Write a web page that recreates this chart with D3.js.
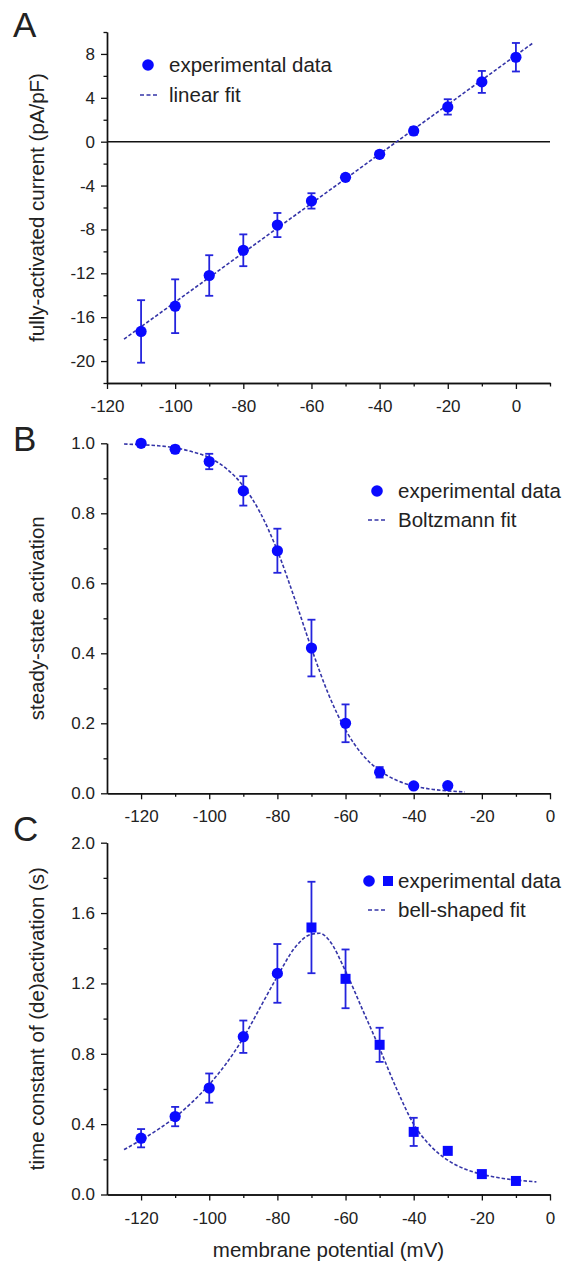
<!DOCTYPE html>
<html lang="en">
<head>
<meta charset="utf-8">
<title>Fully-activated current, activation and kinetics</title>
<script src="https://cdn.jsdelivr.net/npm/d3@7"></script>
<style>
  body { margin: 0; background: #fff; }
  svg text { font-family: "Liberation Sans", Arial, sans-serif; fill: #222; }
</style>
</head>
<body>
<script>
// A: fully-activated current (pA/pF)
var voltsA = [-110, -100, -90, -80, -70, -60, -50, -40, -30, -20, -10, 0];
var currentA = [-17.3, -15.0, -12.2, -9.9, -7.6, -5.4, -3.25, -1.15, 0.98, 3.17, 5.45, 7.7];
var currentErrA = [2.85, 2.45, 1.85, 1.45, 1.1, 0.7, 0.25, 0.25, 0.35, 0.7, 1.0, 1.3];
var fitVoltsA = [-115, 5];
var fitCurrentA = [-18.0, 9.0];

// B: steady-state activation
var voltsB = [-120, -110, -100, -90, -80, -70, -60, -50, -40, -30];
var activationB = [1.0, 0.983, 0.948, 0.864, 0.693, 0.415, 0.2, 0.06, 0.021, 0.022];
var activationErrB = [0.005, 0.01, 0.022, 0.042, 0.063, 0.081, 0.054, 0.015, 0.005, 0.005];
var fitVoltsB = [-125, -120, -115, -110, -105, -100, -95, -90, -85, -80, -75, -70, -65, -60, -55, -50, -45, -40, -35, -30, -25];
var fitActivationB = [0.998, 0.996, 0.993, 0.987, 0.976, 0.959, 0.928, 0.878, 0.801, 0.693, 0.558, 0.414, 0.283, 0.181, 0.11, 0.065, 0.037, 0.021, 0.012, 0.007, 0.004];

// C: time constant of (de)activation (s)
var voltsC = [-120, -110, -100, -90, -80, -70, -60, -50, -40, -30, -20, -10];
var tauC = [0.32, 0.443, 0.605, 0.897, 1.257, 1.518, 1.226, 0.851, 0.356, 0.248, 0.116, 0.077];
var tauErrC = [0.052, 0.055, 0.083, 0.092, 0.167, 0.26, 0.167, 0.097, 0.08, 0.015, 0.01, 0.01];
var shapeC = ["circle", "circle", "circle", "circle", "circle", "square", "square", "square", "square", "square", "square", "square"];
var fitVoltsC = [-125, -120, -115, -110, -105, -100, -95, -90, -85, -80, -75, -70, -67.5, -65, -60, -55, -50, -45, -40, -35, -30, -25, -20, -15, -10, -4];
var fitTauC = [0.255, 0.31, 0.37, 0.44, 0.525, 0.625, 0.745, 0.89, 1.065, 1.24, 1.4, 1.48, 1.485, 1.45, 1.27, 1.05, 0.83, 0.6, 0.4, 0.275, 0.195, 0.145, 0.115, 0.095, 0.082, 0.072];

var w = 572, h = 1265;
var left = 107, right = 550;
var markColor = "#0a0aff", errColor = "#2424dd", fitColor = "#3535a8";

var svg = d3.select("body").append("svg")
  .attr("width", w)
  .attr("height", h);

svg.append("rect").attr("width", w).attr("height", h).attr("fill", "#fff");

function drawPanel(p) {
  var g = svg.append("g");
  var x = d3.scaleLinear().domain(p.xDomain).range([left, right]);
  var y = d3.scaleLinear().domain(p.yDomain).range([p.bottom, p.top]);

  // minor ticks
  g.append("g").attr("transform", "translate(0," + p.bottom + ")")
    .call(d3.axisBottom(x).tickValues(p.xMinor).tickSize(3.5).tickSizeOuter(0).tickFormat(""));
  g.append("g").attr("transform", "translate(" + left + ",0)")
    .call(d3.axisLeft(y).tickValues(p.yMinor).tickSize(3.5).tickSizeOuter(0).tickFormat(""));

  // major ticks + labels
  var xa = g.append("g").attr("transform", "translate(0," + p.bottom + ")")
    .call(d3.axisBottom(x).tickValues(p.xMajor).tickSize(6).tickSizeOuter(0).tickPadding(11)
      .tickFormat(function(d) { return String(d); }));
  var ya = g.append("g").attr("transform", "translate(" + left + ",0)")
    .call(d3.axisLeft(y).tickValues(p.yMajor).tickSize(6).tickSizeOuter(0).tickPadding(6)
      .tickFormat(p.yFormat));

  g.selectAll(".tick line").attr("stroke", "#111").attr("stroke-width", 1.3);
  g.selectAll(".domain").attr("stroke", "#111").attr("stroke-width", 1.4);
  g.selectAll(".tick text").attr("font-size", 17).attr("font-family", "Liberation Sans, Arial, sans-serif").attr("fill", "#222");

  // y title
  g.append("text")
    .attr("transform", "translate(37," + ((p.top + p.bottom) / 2) + ") rotate(-90)")
    .attr("text-anchor", "middle")
    .attr("dy", "0.35em")
    .attr("font-size", 20.5)
    .text(p.yTitle);

  // panel letter
  g.append("text")
    .attr("x", 13).attr("y", p.letterY)
    .attr("font-size", 35)
    .attr("fill", "#111")
    .text(p.letter);

  if (p.zeroLine) {
    g.append("line")
      .attr("x1", x(p.xDomain[0])).attr("x2", x(p.xDomain[1]))
      .attr("y1", y(0)).attr("y2", y(0))
      .attr("stroke", "#111").attr("stroke-width", 1.4);
  }

  // fit curve
  var line = d3.line()
    .x(function(d) { return x(d[0]); })
    .y(function(d) { return y(d[1]); })
    .curve(d3.curveMonotoneX);
  g.append("path")
    .datum(d3.zip(p.fitX, p.fitY))
    .attr("d", line)
    .attr("fill", "none")
    .attr("stroke", fitColor)
    .attr("stroke-width", 1.6)
    .attr("stroke-dasharray", "3.5,2");

  // error bars
  var pts = p.xs.map(function(v, i) {
    return { x: v, y: p.ys[i], e: p.errs[i], s: p.shapes ? p.shapes[i] : "circle" };
  });
  var eb = g.selectAll(".eb").data(pts).enter().append("g").attr("class", "eb");
  eb.append("line")
    .attr("x1", function(d) { return x(d.x); })
    .attr("x2", function(d) { return x(d.x); })
    .attr("y1", function(d) { return y(d.y - d.e); })
    .attr("y2", function(d) { return y(d.y + d.e); });
  eb.append("line")
    .attr("x1", function(d) { return x(d.x) - 4; })
    .attr("x2", function(d) { return x(d.x) + 4; })
    .attr("y1", function(d) { return y(d.y + d.e); })
    .attr("y2", function(d) { return y(d.y + d.e); });
  eb.append("line")
    .attr("x1", function(d) { return x(d.x) - 4; })
    .attr("x2", function(d) { return x(d.x) + 4; })
    .attr("y1", function(d) { return y(d.y - d.e); })
    .attr("y2", function(d) { return y(d.y - d.e); });
  eb.selectAll("line").attr("stroke", errColor).attr("stroke-width", 1.8);

  // markers
  g.selectAll(".dot").data(pts.filter(function(d) { return d.s == "circle"; }))
    .enter().append("circle")
    .attr("cx", function(d) { return x(d.x); })
    .attr("cy", function(d) { return y(d.y); })
    .attr("r", 5.6)
    .attr("fill", markColor);
  g.selectAll(".sq").data(pts.filter(function(d) { return d.s == "square"; }))
    .enter().append("rect")
    .attr("x", function(d) { return x(d.x) - 5; })
    .attr("y", function(d) { return y(d.y) - 5; })
    .attr("width", 10).attr("height", 10)
    .attr("fill", markColor);

  // legend
  var lg = p.legend;
  if (lg.square) {
    lg.markers = [["circle", lg.mx], ["square", lg.mx + 19]];
  } else {
    lg.markers = [["circle", lg.mx]];
  }
  lg.markers.forEach(function(m) {
    if (m[0] == "circle") {
      g.append("circle").attr("cx", m[1]).attr("cy", lg.y1).attr("r", 5.8).attr("fill", markColor);
    } else {
      g.append("rect").attr("x", m[1] - 5).attr("y", lg.y1 - 5).attr("width", 10).attr("height", 10).attr("fill", markColor);
    }
  });
  g.append("line")
    .attr("x1", lg.dx1).attr("x2", lg.dx2)
    .attr("y1", lg.y2).attr("y2", lg.y2)
    .attr("stroke", fitColor).attr("stroke-width", 1.6)
    .attr("stroke-dasharray", "4,2.5");
  g.append("text").attr("x", lg.tx).attr("y", lg.y1).attr("dy", "0.35em")
    .attr("font-size", 20.5).text("experimental data");
  g.append("text").attr("x", lg.tx).attr("y", lg.y2).attr("dy", "0.35em")
    .attr("font-size", 20.5).text(lg.fitName);

  return { x: x, y: y };
}

drawPanel({
  letter: "A", letterY: 37,
  top: 32, bottom: 383,
  xDomain: [-120, 10], yDomain: [-22, 10],
  xMajor: [-120, -100, -80, -60, -40, -20, 0],
  xMinor: [-110, -90, -70, -50, -30, -10, 10],
  yMajor: [-20, -16, -12, -8, -4, 0, 4, 8],
  yMinor: [-22, -18, -14, -10, -6, -2, 2, 6, 10],
  yFormat: function(d) { return String(d); },
  yTitle: "fully-activated current (pA/pF)",
  zeroLine: true,
  xs: voltsA, ys: currentA, errs: currentErrA,
  fitX: fitVoltsA, fitY: fitCurrentA,
  legend: { mx: 148, tx: 169, dx1: 140, dx2: 157, y1: 65, y2: 95, fitName: "linear fit" }
});

drawPanel({
  letter: "B", letterY: 451,
  top: 443.3, bottom: 793.3,
  xDomain: [-130, 0], yDomain: [0, 1.0],
  xMajor: [-120, -100, -80, -60, -40, -20, 0],
  xMinor: [-110, -90, -70, -50, -30, -10],
  yMajor: [0, 0.2, 0.4, 0.6, 0.8, 1.0],
  yMinor: [0.1, 0.3, 0.5, 0.7, 0.9],
  yFormat: d3.format(".1f"),
  yTitle: "steady-state activation",
  xs: voltsB, ys: activationB, errs: activationErrB,
  fitX: fitVoltsB, fitY: fitActivationB,
  legend: { mx: 377, tx: 398, dx1: 368, dx2: 387, y1: 491, y2: 520, fitName: "Boltzmann fit" }
});

var pc = drawPanel({
  letter: "C", letterY: 841,
  top: 842.7, bottom: 1194.5,
  xDomain: [-130, 0], yDomain: [0, 2.0],
  xMajor: [-120, -100, -80, -60, -40, -20, 0],
  xMinor: [-110, -90, -70, -50, -30, -10],
  yMajor: [0, 0.4, 0.8, 1.2, 1.6, 2.0],
  yMinor: [0.2, 0.6, 1.0, 1.4, 1.8],
  yFormat: d3.format(".1f"),
  yTitle: "time constant of (de)activation (s)",
  xs: voltsC, ys: tauC, errs: tauErrC, shapes: shapeC,
  fitX: fitVoltsC, fitY: fitTauC,
  legend: { mx: 369, square: true, tx: 398, dx1: 368, dx2: 387, y1: 881, y2: 910, fitName: "bell-shaped fit" }
});

svg.append("text")
  .attr("x", (left + right) / 2).attr("y", 1250)
  .attr("dy", "0.35em")
  .attr("text-anchor", "middle")
  .attr("font-size", 20.5)
  .text("membrane potential (mV)");
</script>
</body>
</html>
